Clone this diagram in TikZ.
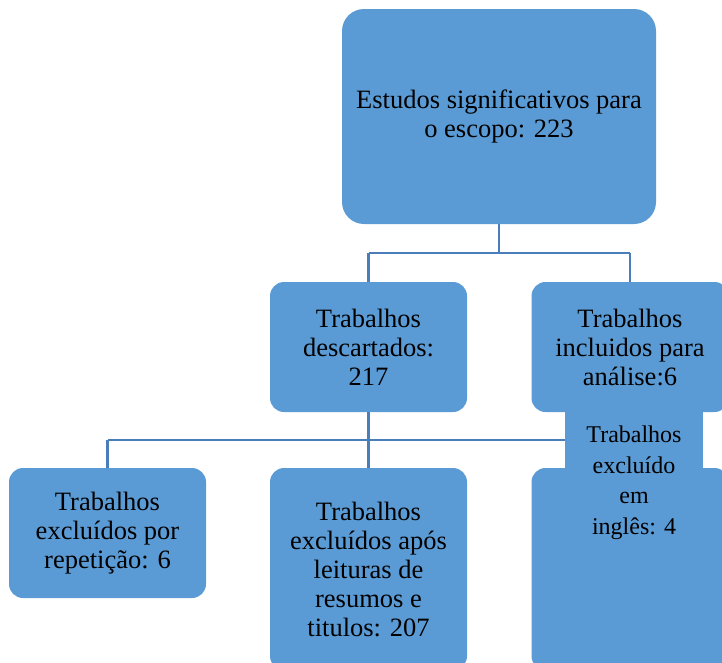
\documentclass[tikz,border=0pt]{standalone}
\usepackage{fontspec}
\setmainfont{Liberation Serif}
\definecolor{boxblue}{HTML}{5B9BD5}
\definecolor{lineblue}{HTML}{4A7EBB}
\begin{document}
\begin{tikzpicture}[x=1pt,y=-1pt,
  box/.style={fill=boxblue,draw=none,rounded corners=14pt,inner sep=0pt,align=center,
    font=\fontsize{26.5}{29}\selectfont,anchor=center},
  conn/.style={draw=lineblue,line width=2.4pt}]
\useasboundingbox (0,0) rectangle (722,662);
\clip (0,0) rectangle (722,662);
% boxes
\node[box,rounded corners=22pt,minimum width=314pt,minimum height=215pt] (top) at (499,116.5) {Estudos significativos para\\o escopo: 223};
\node[box,minimum width=197pt,minimum height=130pt] (desc) at (368.5,347) {Trabalhos\\descartados:\\217};
\node[box,minimum width=197pt,minimum height=130pt] (incl) at (630,347) {Trabalhos\\incluidos para\\análise:6};
\node[box,minimum width=197pt,minimum height=130pt] (rep) at (107.5,533) {Trabalhos\\excluídos por\\repetição: 6};
\node[box,minimum width=197pt,minimum height=202pt] (res) at (368.5,569) {Trabalhos\\excluídos após\\leituras de\\resumos e\\titulos: 207};
\node[box,minimum width=197pt,minimum height=202pt] (eng) at (630,569) {};
% connectors
\coordinate (j1) at (499,253);
\coordinate (j2) at (368.5,440);
\draw[conn] (top.south) -- (j1);
\draw[conn] (j1 -| desc.north) -- (j1 -| incl.north);
\draw[conn] (j1 -| desc.north) -- (desc.north);
\draw[conn] (j1 -| incl.north) -- (incl.north);
\draw[conn] (desc.south) -- (res.north);
\draw[conn] (j2 -| rep.north) -- (j2 -| eng.north);
\draw[conn] (j2 -| rep.north) -- (rep.north);
\draw[conn] (j2 -| eng.north) -- (eng.north);
% overlay text box
\node[fill=boxblue,draw=none,inner sep=0pt,minimum width=138pt,minimum height=57pt] (ov) at (634,440.5) {};
\node[align=center,inner sep=0pt,font=\fontsize{24}{30.5}\selectfont] (ovtext) at (634,483) {Trabalhos\\excluído\\em\\inglês: 4};
\end{tikzpicture}
\end{document}
